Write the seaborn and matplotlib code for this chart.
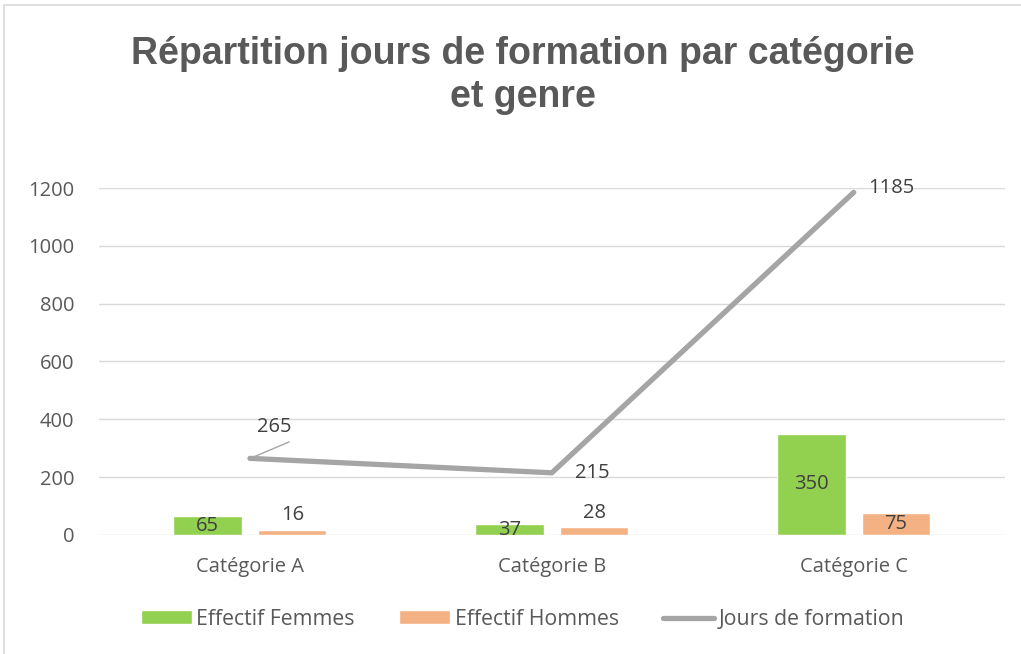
import pandas as pd
import numpy as np
import matplotlib.pyplot as plt
import seaborn as sns
from matplotlib.patches import Rectangle, Patch
from matplotlib.lines import Line2D

# Data
categories = ['Catégorie A', 'Catégorie B', 'Catégorie C']
femmes = [65, 37, 350]
hommes = [16, 28, 75]
jours = [265, 215, 1185]

df = pd.DataFrame({
    'cat': categories * 2,
    'serie': ['Effectif Femmes'] * 3 + ['Effectif Hommes'] * 3,
    'val': femmes + hommes,
})

sns.set_theme(style='white')
plt.rcParams['font.family'] = ['Open Sans', 'DejaVu Sans']

fig = plt.figure(figsize=(10.21, 6.54), dpi=100)
ax = fig.add_axes([0.097, 0.182, 0.887, 0.5305])

green = '#92D050'
orange = '#F4B183'
grey = '#A5A5A5'

sns.barplot(data=df, x='cat', y='val', hue='serie', order=categories,
            palette=[green, orange], width=0.56, gap=0.19, ax=ax, legend=False,
            saturation=1, zorder=2)

sns.lineplot(x=np.arange(3), y=jours, color=grey, linewidth=3.8, ax=ax,
             solid_capstyle='round', legend=False, zorder=3)

ax.set_ylim(0, 1200)
ax.set_xlim(-0.5, 2.5)
ax.set_yticks(range(0, 1201, 200))
ax.yaxis.grid(True, color='#D9D9D9', linewidth=1, zorder=0)
ax.set_axisbelow(True)
for s in ax.spines.values():
    s.set_visible(False)
ax.set_xlabel('')
ax.set_ylabel('')
ax.tick_params(axis='both', colors='#595959', labelsize=14.5, length=0)
ax.tick_params(axis='x', pad=16)
ax.tick_params(axis='y', pad=18)

lab = dict(color='#404040', fontsize=14.5, ha='center', va='center', zorder=4)

# bar labels
for b, v in zip(ax.containers[0], femmes):
    ax.text(b.get_x() + b.get_width() / 2, v / 2, str(v), **lab)
h_pos = [69, 76, 37.5]
for b, v, yp in zip(ax.containers[1], hommes, h_pos):
    ax.text(b.get_x() + b.get_width() / 2, yp, str(v), **lab)

# line labels
ax.text(0.08, 375, str(jours[0]), **lab)
ax.plot([0.01, 0.13], [269, 322], color=grey, linewidth=1)
ax.annotate(str(jours[1]), (1, jours[1]), xytext=(29, 0),
            textcoords='offset points', **lab)
ax.annotate(str(jours[2]), (2, jours[2]), xytext=(27, 3.5),
            textcoords='offset points', **lab)

# title
fig.text(0.512, 0.884, 'Répartition jours de formation par catégorie\net genre',
         ha='center', va='center', fontsize=27, fontweight='bold',
         color='#595959', family=['Liberation Sans', 'DejaVu Sans'],
         linespacing=1.25)

# legend
handles = [Patch(facecolor=green), Patch(facecolor=orange),
           Line2D([0], [0], color=grey, linewidth=3.8, solid_capstyle='round')]
labels = ['Effectif Femmes', 'Effectif Hommes', 'Jours de formation']
fig.legend(handles, labels, loc='center', bbox_to_anchor=(0.512, 0.053),
           ncol=3, frameon=False, fontsize=15.3, handlelength=2.4,
           handleheight=0.65, handletextpad=0.2, columnspacing=2.1,
           labelcolor='#595959')

# chart border
fig.patches.append(Rectangle((4 / 1021, -0.01), 1.1, (654 - 5) / 654 + 0.01,
                             transform=fig.transFigure, fill=False,
                             edgecolor='#D9D9D9', linewidth=1.2))

fig.savefig('out.png')
